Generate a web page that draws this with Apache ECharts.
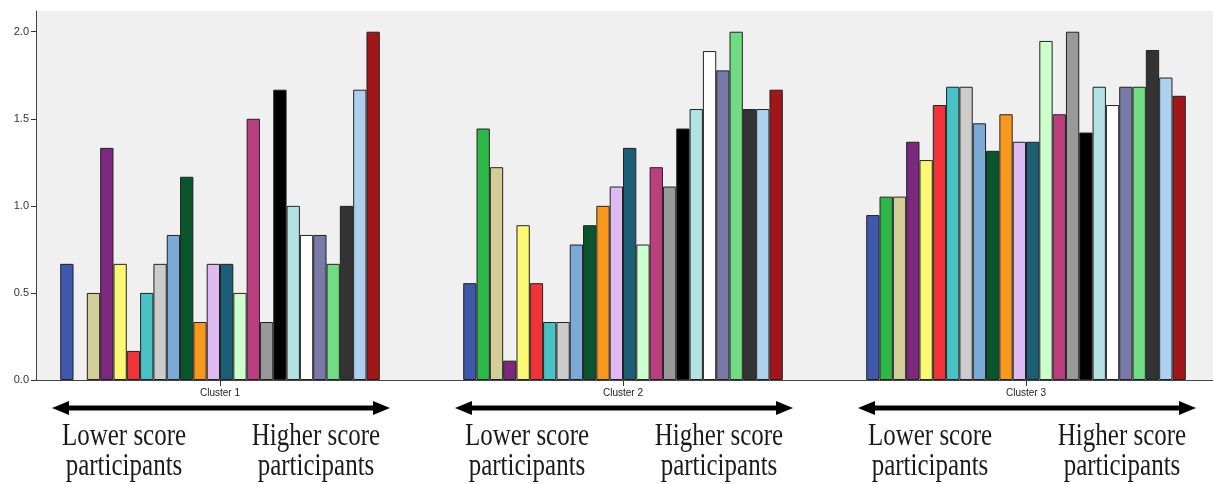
<!DOCTYPE html>
<html>
<head>
<meta charset="utf-8">
<script src="https://cdn.jsdelivr.net/npm/echarts@6/dist/echarts.min.js"></script>
<style>
  html, body { margin: 0; padding: 0; background: #ffffff; }
  #chart { width: 1213px; height: 484px; }
</style>
</head>
<body>
<div id="chart"></div>
<script>
// Cluster labels and their positions on the x scale
const clusters = ['Cluster 1', 'Cluster 2', 'Cluster 3'];
const clusterPos = [1, 2, 3];

// One colour per participant, ordered from lower to higher score
const participantColors = [
  '#3E58AC', '#2EB848', '#D3CE97', '#7C287D', '#FBF873', '#EF3338',
  '#48C2C5', '#CCCCCC', '#7AAAD5', '#0A562C', '#F8981D', '#DDBAF1',
  '#1A5F76', '#CCFFCC', '#BB3F7F', '#999999', '#000000', '#B3E2E3',
  '#FFFFFF', '#797AA7', '#70DC84', '#333333', '#ACD0EE', '#A21619'
];

// Values per participant within each cluster (null = no bar)
const cluster1 = [0.667, null, 0.5, 1.333, 0.667, 0.167, 0.5, 0.667, 0.833, 1.167, 0.333, 0.667,
                  0.667, 0.5, 1.5, 0.333, 1.667, 1.0, 0.833, 0.833, 0.667, 1.0, 1.667, 2.0];
const cluster2 = [0.556, 1.444, 1.222, 0.111, 0.889, 0.556, 0.333, 0.333, 0.778, 0.889, 1.0, 1.111,
                  1.333, 0.778, 1.222, 1.111, 1.444, 1.556, 1.889, 1.778, 2.0, 1.556, 1.556, 1.667];
const cluster3 = [0.947, 1.053, 1.053, 1.368, 1.263, 1.579, 1.684, 1.684, 1.474, 1.316, 1.526, 1.368,
                  1.368, 1.947, 1.526, 2.0, 1.421, 1.684, 1.579, 1.684, 1.684, 1.895, 1.737, 1.632];

// Y axis tick values and their labels
const yTickValues = [0, 0.5, 1, 1.5, 2];
const yTickLabels = ['0.0', '0.5', '1.0', '1.5', '2.0'];

// Annotation text under each cluster
const lowerLines = ['Lower score', 'participants'];
const higherLines = ['Higher score', 'participants'];

const clusterValues = [cluster1, cluster2, cluster3];

const series = participantColors.map((color, i) => ({
  type: 'bar',
  name: 'P' + (i + 1),
  barGap: 0,
  barCategoryGap: '20.7%',
  itemStyle: { color: color, borderColor: '#222222', borderWidth: 1 },
  emphasis: { disabled: true },
  animation: false,
  data: clusterPos.map((p, k) => [p, clusterValues[k][i]])
}));

const option = {
  animation: false,
  backgroundColor: '#ffffff',
  grid: {
    left: 36, right: 0, top: 11, bottom: 104,
    show: true, backgroundColor: '#f0f0f0', borderWidth: 0
  },
  xAxis: {
    type: 'value',
    min: 0.54342,
    max: 3.46402,
    splitLine: { show: false },
    axisLine: { show: true, onZero: false, lineStyle: { color: '#444444', width: 1 } },
    axisTick: { show: true, length: 6, lineStyle: { color: '#333333' }, customValues: clusterPos },
    axisLabel: {
      show: true,
      customValues: clusterPos,
      formatter: v => clusters[Math.round(v) - 1] || '',
      color: '#222222',
      fontFamily: 'Liberation Sans, Arial, sans-serif',
      fontSize: 10,
      margin: 8
    }
  },
  yAxis: {
    type: 'value',
    min: 0,
    max: 2.119,
    splitLine: { show: false },
    axisLine: { show: true, onZero: false, lineStyle: { color: '#444444', width: 1 } },
    axisTick: { show: true, length: 5, lineStyle: { color: '#333333' }, customValues: yTickValues },
    axisLabel: {
      show: true,
      customValues: yTickValues,
      formatter: v => yTickLabels[yTickValues.indexOf(v)] ?? '',
      color: '#333333',
      fontFamily: 'Liberation Sans, Arial, sans-serif',
      fontSize: 11,
      margin: 7
    }
  },
  series: series
};

const chart = echarts.init(document.getElementById('chart'), null, { renderer: 'canvas' });
chart.setOption(option);

// Double-headed arrow and the two text captions under each cluster
function buildNotes() {
  const els = [];
  const arrowY = 408;
  const shaft = 5;
  const headLen = 17;
  const headHalf = 7;
  const textStyle = {
    font: '25px "Liberation Serif", "Times New Roman", serif',
    fill: '#1a1a1a',
    align: 'center',
    verticalAlign: 'middle'
  };
  clusterPos.forEach(p => {
    const cx = chart.convertToPixel({ xAxisIndex: 0 }, p);
    const x0 = cx - 168;
    const x1 = cx + 170;
    els.push({
      type: 'rect', silent: true,
      shape: { x: x0 + headLen - 1, y: arrowY - shaft / 2, width: (x1 - x0) - 2 * headLen + 2, height: shaft },
      style: { fill: '#000000' }
    });
    els.push({
      type: 'polygon', silent: true,
      shape: { points: [[x0, arrowY], [x0 + headLen, arrowY - headHalf], [x0 + headLen, arrowY + headHalf]] },
      style: { fill: '#000000' }
    });
    els.push({
      type: 'polygon', silent: true,
      shape: { points: [[x1, arrowY], [x1 - headLen, arrowY - headHalf], [x1 - headLen, arrowY + headHalf]] },
      style: { fill: '#000000' }
    });
    const lineY = [437, 467];
    [[cx - 96, lowerLines], [cx + 96, higherLines]].forEach(([tx, lines]) => {
      lines.forEach((t, li) => {
        els.push({
          type: 'text', silent: true,
          x: tx, y: lineY[li], scaleY: 1.27,
          style: Object.assign({ text: t }, textStyle)
        });
      });
    });
  });
  return els;
}

chart.setOption({ graphic: { elements: buildNotes() } });
</script>
</body>
</html>
